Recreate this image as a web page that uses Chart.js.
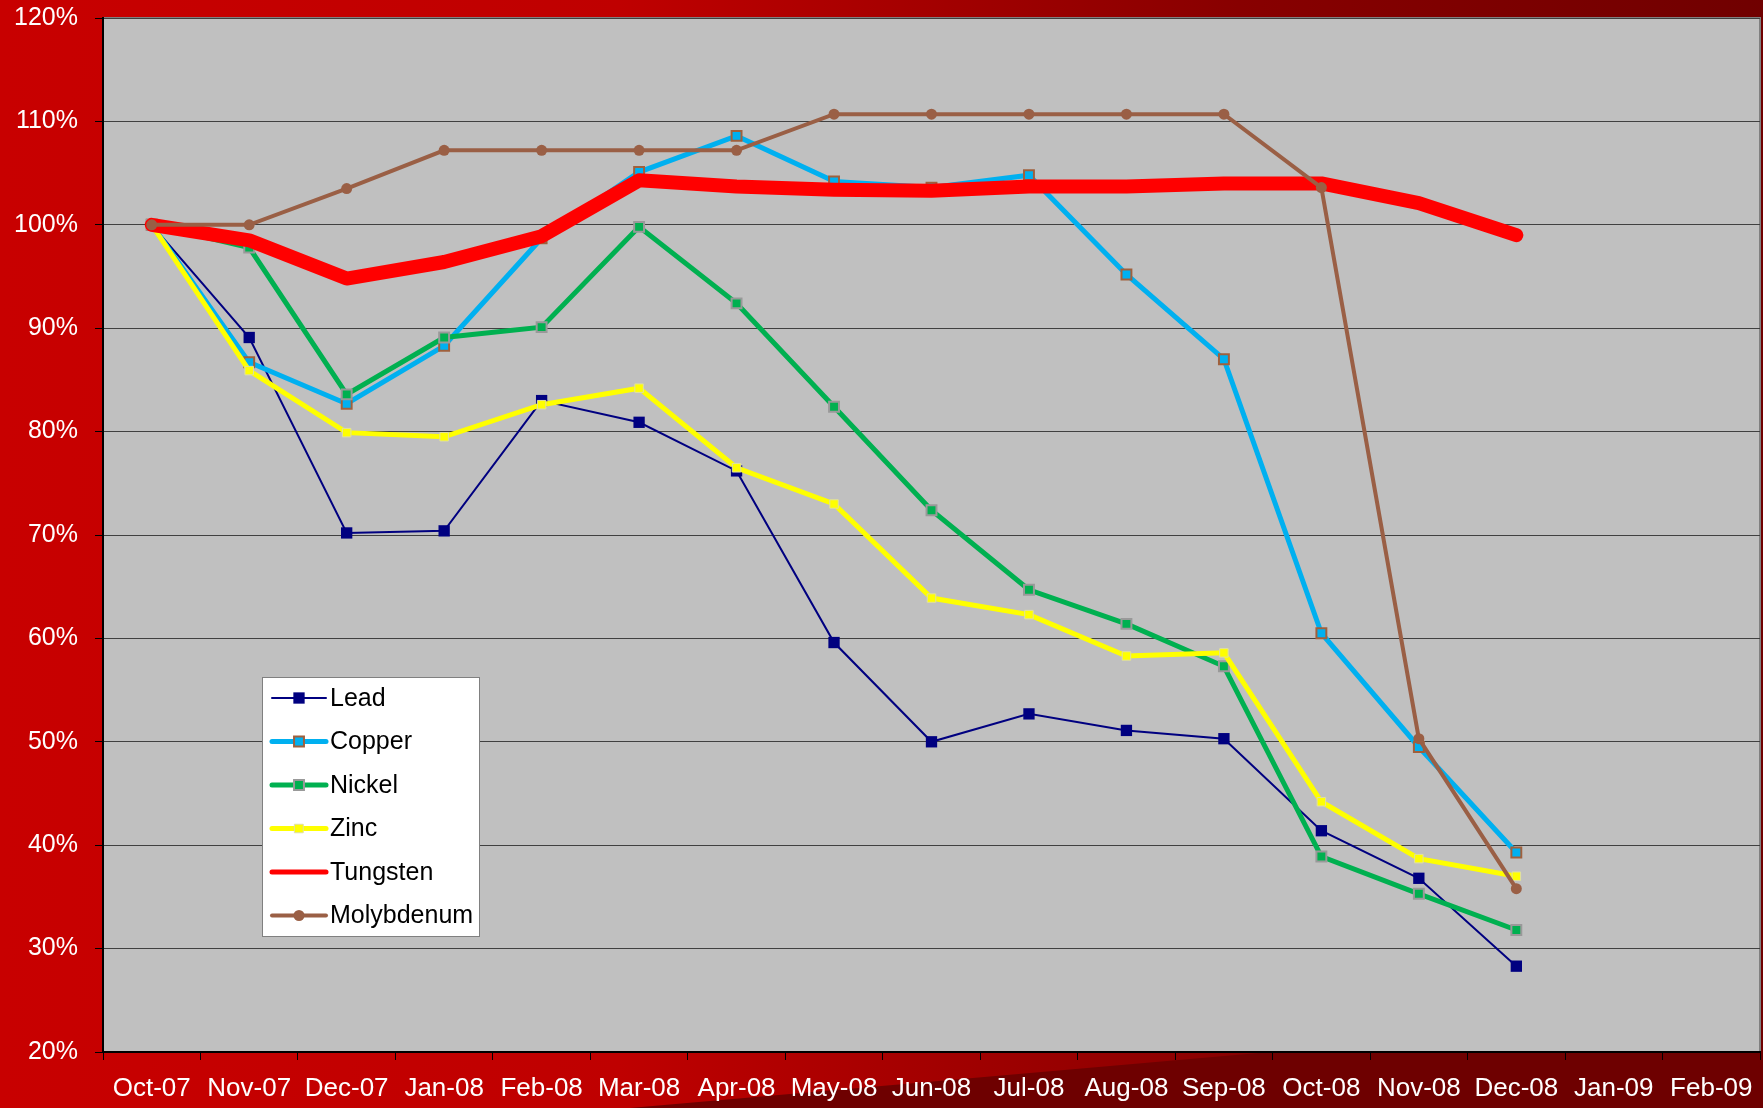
<!DOCTYPE html>
<html>
<head>
<meta charset="utf-8">
<script src="https://cdn.jsdelivr.net/npm/chart.js@4.4.1/dist/chart.umd.min.js"></script>
<style>
  html, body { margin: 0; padding: 0; background: #c80000; overflow: hidden; }
  #wrap { width: 1763px; height: 1108px; overflow: hidden; }
</style>
</head>
<body>
<div id="wrap"><canvas id="chart" width="1769" height="1108"></canvas></div>
<script>
const months = ['Oct-07', 'Nov-07', 'Dec-07', 'Jan-08', 'Feb-08', 'Mar-08', 'Apr-08', 'May-08', 'Jun-08',
  'Jul-08', 'Aug-08', 'Sep-08', 'Oct-08', 'Nov-08', 'Dec-08', 'Jan-09', 'Feb-09'];

const lead = [100, 89.1, 70.2, 70.4, 83.0, 80.9, 76.2, 59.6, 50.0, 52.7, 51.1, 50.3, 41.4, 36.8, 28.3, null, null];
const copper = [100, 86.7, 82.7, 88.3, 98.7, 105.1, 108.6, 104.2, 103.6, 104.8, 95.2, 87.0, 60.5, 49.5, 39.3, null, null];
const nickel = [100, 97.8, 83.6, 89.1, 90.1, 99.8, 92.4, 82.4, 72.4, 64.7, 61.4, 57.3, 38.9, 35.3, 31.8, null, null];
const zinc = [100, 85.9, 79.9, 79.5, 82.6, 84.2, 76.5, 73.0, 63.9, 62.3, 58.3, 58.6, 44.2, 38.7, 37.0, null, null];
const tungsten = [100, 98.5, 94.8, 96.4, 98.9, 104.3, 103.7, 103.4, 103.3, 103.7, 103.7, 104.0, 104.0, 102.1, 99.0, null, null];
const molybdenum = [100, 100, 103.5, 107.2, 107.2, 107.2, 107.2, 110.7, 110.7, 110.7, 110.7, 110.7, 103.6, 50.3, 35.8, null, null];

const yTicks = [20, 30, 40, 50, 60, 70, 80, 90, 100, 110, 120];

const font = 'Liberation Sans, Arial, sans-serif';

// background: red gradient + dark wedge at the bottom, grey plot area
const backdrop = {
  id: 'backdrop',
  beforeDraw(chart) {
    const { ctx, width, height, chartArea: a } = chart;
    ctx.save();
    const g = ctx.createLinearGradient(0, 0, width, 0);
    g.addColorStop(0, '#c80000');
    g.addColorStop(0.35, '#bf0000');
    g.addColorStop(0.7, '#880000');
    g.addColorStop(1, '#700000');
    ctx.fillStyle = g;
    ctx.fillRect(0, 0, width, height);
    ctx.fillStyle = '#6e0000';
    ctx.beginPath();
    ctx.moveTo(630, height);
    ctx.lineTo(1270, a.bottom);
    ctx.lineTo(width, a.bottom);
    ctx.lineTo(width, height);
    ctx.closePath();
    ctx.fill();
    ctx.fillStyle = '#c0c0c0';
    ctx.fillRect(a.left, a.top, a.right - a.left, a.bottom - a.top);
    ctx.strokeStyle = '#808080';
    ctx.lineWidth = 2;
    ctx.beginPath();
    ctx.moveTo(a.left, a.top);
    ctx.lineTo(a.right, a.top);
    ctx.lineTo(a.right, a.bottom);
    ctx.stroke();
    ctx.restore();
  }
};

// legend box inside the plot, lower left
const boxLegend = {
  id: 'boxLegend',
  afterDraw(chart) {
    const { ctx } = chart;
    const x = 262, y = 677, w = 217, h = 259;
    ctx.save();
    ctx.fillStyle = '#ffffff';
    ctx.fillRect(x, y, w, h);
    ctx.strokeStyle = '#808080';
    ctx.lineWidth = 1;
    ctx.strokeRect(x + 0.5, y + 0.5, w, h);
    ctx.font = '25px ' + font;
    ctx.textBaseline = 'middle';
    chart.data.datasets.forEach((ds, i) => {
      const cy = y + 21 + i * 43.5;
      ctx.strokeStyle = ds.borderColor;
      ctx.lineWidth = Math.min(ds.borderWidth, 5);
      ctx.lineCap = 'round';
      ctx.beginPath();
      ctx.moveTo(272, cy);
      ctx.lineTo(326, cy);
      ctx.stroke();
      if (ds.pointRadius > 0) {
        ctx.fillStyle = ds.pointBackgroundColor;
        ctx.strokeStyle = ds.pointBorderColor;
        ctx.lineWidth = ds.pointBorderWidth;
        ctx.beginPath();
        if (ds.pointStyle === 'circle') {
          ctx.arc(299, cy, ds.pointRadius, 0, Math.PI * 2);
        } else {
          const s = ds.pointRadius * Math.SQRT1_2;
          ctx.rect(299 - s, cy - s, s * 2, s * 2);
        }
        ctx.fill();
        if (ds.pointBorderWidth) ctx.stroke();
      }
      ctx.fillStyle = '#000000';
      ctx.fillText(ds.label, 330, cy + 1);
    });
    ctx.restore();
  }
};

function series(label, data, color, width, opts) {
  return Object.assign({
    label: label,
    data: data,
    borderColor: color,
    backgroundColor: color,
    borderWidth: width,
    pointStyle: 'rect',
    pointRadius: 7,
    pointBackgroundColor: color,
    pointBorderColor: color,
    pointBorderWidth: 0,
    pointHoverRadius: 7,
    spanGaps: false,
    tension: 0
  }, opts);
}

const ctx = document.getElementById('chart').getContext('2d');
new Chart(ctx, {
  type: 'line',
  data: {
    labels: months,
    datasets: [
      series('Lead', lead, '#000080', 2, { order: 6, pointRadius: 8 }),
      series('Copper', copper, '#00b0f0', 5, { order: 5, pointBorderColor: '#a0603c', pointBorderWidth: 2 }),
      series('Nickel', nickel, '#00b050', 5, { order: 4, pointBorderColor: '#999999', pointBorderWidth: 2 }),
      series('Zinc', zinc, '#ffff00', 5, { order: 3, pointRadius: 6, pointBorderColor: '#e0e0a0', pointBorderWidth: 1 }),
      series('Tungsten', tungsten, '#ff0000', 14, { order: 2, pointRadius: 0, pointHoverRadius: 0, borderCapStyle: 'round', borderJoinStyle: 'round' }),
      series('Molybdenum', molybdenum, '#9a5f45', 4, { order: 1, pointStyle: 'circle', pointRadius: 5.5 })
    ]
  },
  options: {
    responsive: false,
    animation: false,
    devicePixelRatio: 1,
    layout: { padding: { top: 18, right: 0, left: 0, bottom: 0 } },
    plugins: {
      legend: { display: false },
      tooltip: { enabled: false }
    },
    scales: {
      x: {
        offset: true,
        grid: { offset: true, drawOnChartArea: false, tickLength: 8, color: '#000000' },
        border: { color: '#000000', width: 2 },
        ticks: { color: '#ffffff', font: { family: font, size: 26 }, autoSkip: false, maxRotation: 0, padding: 13 },
        afterFit(scale) {
          scale.height = 56;
          scale.paddingLeft = 0;
          scale.paddingRight = 0;
        }
      },
      y: {
        min: 20,
        max: 120,
        afterBuildTicks(scale) { scale.ticks = yTicks.map(v => ({ value: v })); },
        grid: { color: '#404040', tickLength: 8, tickColor: '#000000' },
        border: { color: '#000000', width: 2 },
        ticks: { color: '#ffffff', font: { family: font, size: 25 }, padding: 17, callback: v => v + '%' },
        afterFit(scale) {
          scale.width = 103;
          scale.paddingTop = 0;
          scale.paddingBottom = 0;
        }
      }
    }
  },
  plugins: [backdrop, boxLegend]
});
</script>
</body>
</html>
